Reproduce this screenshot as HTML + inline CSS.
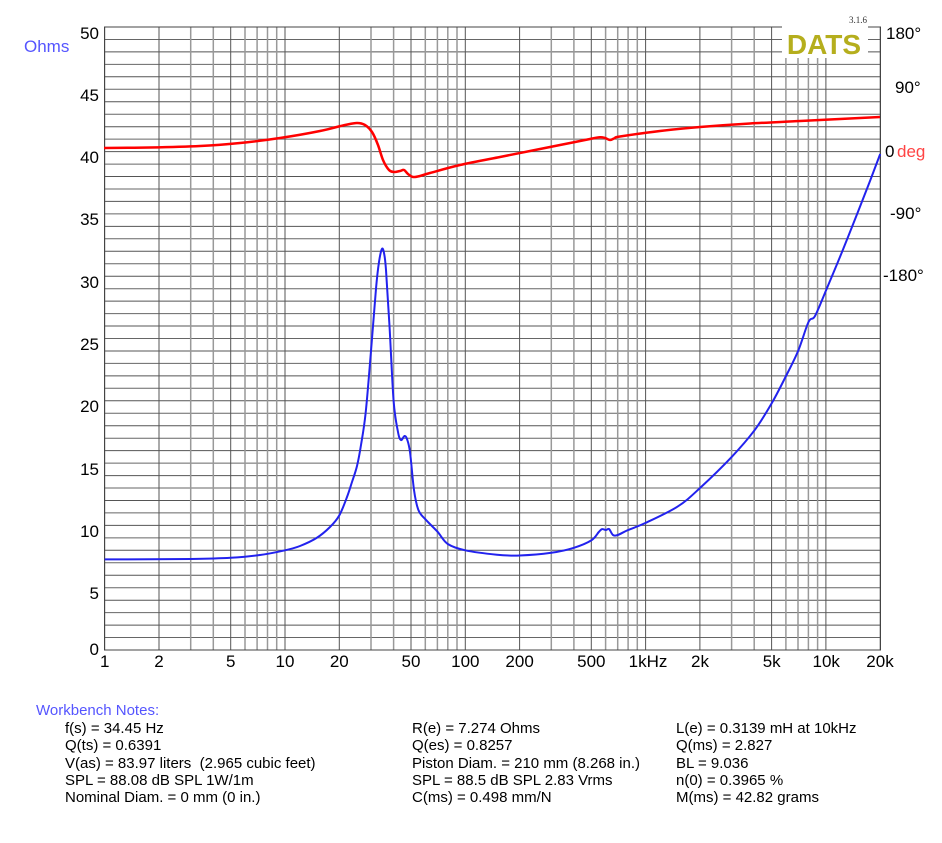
<!DOCTYPE html>
<html><head><meta charset="utf-8"><style>
body{margin:0;background:#fff;width:942px;height:838px;overflow:hidden}
svg text{font-family:"Liberation Sans",sans-serif;white-space:pre}
</style></head><body>
<svg width="942" height="838" xmlns="http://www.w3.org/2000/svg">
<g id="grid" stroke-width="1"></g>
<rect x="104.5" y="27" width="776" height="623" fill="none" stroke="#444" stroke-width="1"/>
<rect x="782" y="26" width="86" height="32" fill="#fff"/>
<text x="824" y="54" font-size="28" font-weight="bold" fill="#b5ae1d" text-anchor="middle">DATS</text>
<text x="858" y="23" font-size="9" fill="#333" text-anchor="middle" style="font-family:'Liberation Serif',serif">3.1.6</text>
<path id="red" fill="none" stroke="#ff0000" stroke-width="2.5" stroke-linejoin="round" data-p="104,148 150,147.5 200,146 240,143 280,138 320,131 345,125 357,123 365,125 372,132 378,145 383,160 389,170 394,172 400,171 404,170 408,174 413,177 420,176 430,173 460,165 500,157 530,151 560,145 590,139 600,137.3 605,138 610,140 615,138 620,136.5 660,131 700,127 750,123.5 800,121 840,119 880,117"/>
<path id="blue" fill="none" stroke="#2222ee" stroke-width="2" stroke-linejoin="round" data-p="104.7,559.4 190.7,559 230.7,557.8 260,555 285,550.3 300,546 316.7,537.9 330,527 339.3,515.4 347,497 352,482 357,466 361,445 365.6,413.3 371,351 376,288.7 379,262 381.9,249 384,253 386,270 389.5,326 393.6,400.8 398,432 401,440 404.5,436 407,439 410,452 414,490 418.4,510 425.3,519.2 437.4,531.6 447.8,544 465.3,550.3 497,554.7 519.6,555.5 551.3,552.8 573.9,547.8 591.3,540.4 598.8,532 602,529.1 606,530 609,529 613,535 617.7,535 628.1,530 645.6,522.9 677.4,506.7 700,488 731.7,456.9 754.2,430.7 771.7,403.3 785,378 798.1,351 808.5,322 815,316 826.2,290 842,252 857.9,212 870,181 880.2,154"/>
<g font-size="17" fill="#000" text-anchor="end">
<text x="99" y="39">50</text><text x="99" y="101">45</text><text x="99" y="163">40</text><text x="99" y="225">35</text><text x="99" y="288">30</text><text x="99" y="350">25</text><text x="99" y="412">20</text><text x="99" y="475">15</text><text x="99" y="537">10</text><text x="99" y="599">5</text><text x="99" y="655">0</text>
</g>
<text x="24" y="52" font-size="17" fill="#5555ff">Ohms</text>
<g font-size="17" fill="#000">
<text x="886" y="39">180°</text><text x="895" y="93">90°</text><text x="885" y="157">0</text><text x="890" y="219">-90°</text><text x="883" y="281">-180°</text>
</g>
<text x="897" y="157" font-size="17" fill="#ff4444">deg</text>
<g font-size="17" fill="#000" text-anchor="middle">
<text x="104.7" y="667">1</text><text x="159" y="667">2</text><text x="230.7" y="667">5</text><text x="285" y="667">10</text><text x="339.3" y="667">20</text><text x="411" y="667">50</text><text x="465.3" y="667">100</text><text x="519.6" y="667">200</text><text x="591.3" y="667">500</text><text x="648" y="667">1kHz</text><text x="700" y="667">2k</text><text x="771.7" y="667">5k</text><text x="826.2" y="667">10k</text><text x="880" y="667">20k</text>
</g>
<text x="36" y="715" font-size="15" fill="#5555ff">Workbench Notes:</text>
<g font-size="15" fill="#000">
<text x="65" y="733">f(s) = 34.45 Hz</text><text x="65" y="750">Q(ts) = 0.6391</text><text x="65" y="768">V(as) = 83.97 liters  (2.965 cubic feet)</text><text x="65" y="785">SPL = 88.08 dB SPL 1W/1m</text><text x="65" y="802">Nominal Diam. = 0 mm (0 in.)</text>
<text x="412" y="733">R(e) = 7.274 Ohms</text><text x="412" y="750">Q(es) = 0.8257</text><text x="412" y="768">Piston Diam. = 210 mm (8.268 in.)</text><text x="412" y="785">SPL = 88.5 dB SPL 2.83 Vrms</text><text x="412" y="802">C(ms) = 0.498 mm/N</text>
<text x="676" y="733">L(e) = 0.3139 mH at 10kHz</text><text x="676" y="750">Q(ms) = 2.827</text><text x="676" y="768">BL = 9.036</text><text x="676" y="785">n(0) = 0.3965 %</text><text x="676" y="802">M(ms) = 42.82 grams</text>
</g>
</svg>
<script>
var g=document.getElementById('grid'),s='';
for(var i=1;i<50;i++){var y=(650-12.46*i).toFixed(1);s+='<line x1="104.5" x2="880.5" y1="'+y+'" y2="'+y+'" stroke="'+(i%2?'#666':'#555')+'"/>';}
for(var d=0;d<5;d++)for(var m=1;m<10;m++){var f=m*Math.pow(10,d);if(f>20000)break;var x=(104.7+180.3*Math.log10(f)).toFixed(1);s+='<line y1="27" y2="650" x1="'+x+'" x2="'+x+'" stroke="'+((m==1||m==2||m==5)?'#555':'#999')+'" stroke-width="'+((m==1||m==2||m==5)?1:1.5)+'"/>';}
g.innerHTML=s;
['red','blue'].forEach(function(id){
 var el=document.getElementById(id);
 var p=el.getAttribute('data-p').split(' ').map(function(t){return t.split(',').map(Number);});
 var d='M'+p[0][0]+','+p[0][1];
 for(var i=0;i<p.length-1;i++){
  var p0=p[i-1]||p[i],p1=p[i],p2=p[i+1],p3=p[i+2]||p2;
  var c1x=p1[0]+(p2[0]-p0[0])/6,c1y=p1[1]+(p2[1]-p0[1])/6,c2x=p2[0]-(p3[0]-p1[0])/6,c2y=p2[1]-(p3[1]-p1[1])/6;
  d+=' C'+c1x.toFixed(1)+','+c1y.toFixed(1)+' '+c2x.toFixed(1)+','+c2y.toFixed(1)+' '+p2[0]+','+p2[1];
 }
 el.setAttribute('d',d);el.removeAttribute('data-p');
});
</script>
</body></html>
